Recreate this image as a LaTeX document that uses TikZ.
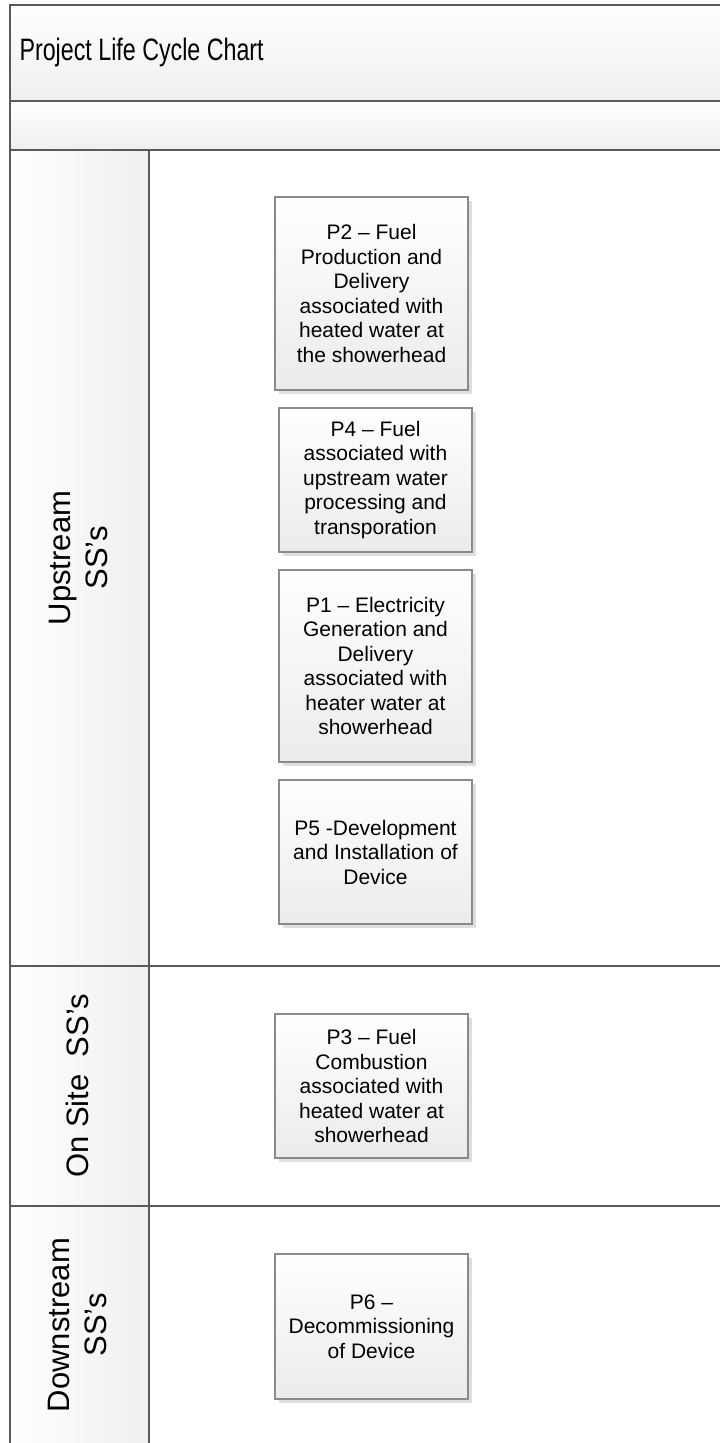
\documentclass[tikz,border=0pt]{standalone}
\usepackage{fontspec}
\setmainfont{Liberation Sans}
\usetikzlibrary{shadows}
\definecolor{frameline}{HTML}{5A5A5A}
\definecolor{boxline}{HTML}{8A8A8A}
\definecolor{boxshade}{HTML}{EBEBEB}
\definecolor{laneshade}{HTML}{EFEFEF}
\definecolor{shadowgray}{HTML}{DEDEDE}
\begin{document}
\begin{tikzpicture}[x=1pt,y=-1pt,
  procbox/.style={draw=boxline, line width=1.2pt, top color=white, bottom color=boxshade,
    minimum width=193pt, align=center, font=\fontsize{21}{24.5}\selectfont,
    drop shadow={shadow xshift=4pt, shadow yshift=-4pt, fill=shadowgray, opacity=1}},
  lanelabel/.style={rotate=90, align=center, font=\fontsize{31}{37}\selectfont},
  frame/.style={draw=frameline, line width=2pt}]
\useasboundingbox (0,0) rectangle (720,1443);
\fill[top color=white, bottom color=laneshade] (10,5) rectangle (720,101);
\fill[top color=white, bottom color=laneshade] (10,101) rectangle (720,150);
\fill[left color=white, right color=laneshade] (10,150) rectangle (149,1443);
\path[frame] (720,5) -- (10,5) -- (10,1443);
\path[frame] (10,101) -- (720,101);
\path[frame] (10,150) -- (720,150);
\path[frame] (10,966) -- (720,966);
\path[frame] (10,1206) -- (720,1206);
\path[frame] (149,150) -- (149,1443);

\node[anchor=base west, font=\fontsize{31}{37}\selectfont] (title) at (16,60) {\scalebox{0.75}[1]{Project Life Cycle Chart}};

\node[lanelabel] (upstream) at (78,558) {Upstream\\SS’s};
\node[lanelabel] (onsite) at (77.5,1086) {On Site\ \ SS’s};
\node[lanelabel] (downstream) at (77.5,1325) {Downstream\\SS’s};

\node[procbox, minimum height=193pt] (p2) at (371.5,293.5) {P2 – Fuel\\Production and\\Delivery\\associated with\\heated water at\\the showerhead};
\node[procbox, minimum height=144pt] (p4) at (375.5,480) {P4 – Fuel\\associated with\\upstream water\\processing and\\transporation};
\node[procbox, minimum height=192pt] (p1) at (375.5,666) {P1 – Electricity\\Generation and\\Delivery\\associated with\\heater water at\\showerhead};
\node[procbox, minimum height=144pt] (p5) at (375.5,852) {P5 -Development\\and Installation of\\Device};
\node[procbox, minimum height=144pt] (p3) at (371.5,1086) {P3 – Fuel\\Combustion\\associated with\\heated water at\\showerhead};
\node[procbox, minimum height=145pt] (p6) at (371.5,1326.5) {P6 –\\Decommissioning\\of Device};
\end{tikzpicture}
\end{document}
